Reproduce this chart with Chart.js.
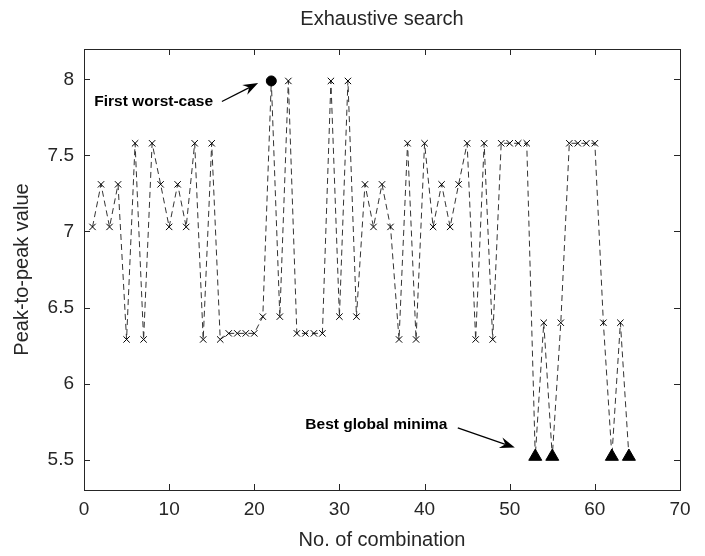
<!DOCTYPE html>
<html>
<head>
<meta charset="utf-8">
<script src="https://cdn.jsdelivr.net/npm/chart.js@4.4.0/dist/chart.umd.min.js"></script>
<style>
  html, body { margin: 0; padding: 0; background: #fff; }
</style>
</head>
<body>
<canvas id="peakChart" width="705" height="556"></canvas>
<script>
// combination number and the peak-to-peak value
var combos = [1, 2, 3, 4, 5, 6, 7, 8, 9, 10, 11, 12, 13, 14, 15, 16,
              17, 18, 19, 20, 21, 22, 23, 24, 25, 26, 27, 28, 29, 30, 31, 32,
              33, 34, 35, 36, 37, 38, 39, 40, 41, 42, 43, 44, 45, 46, 47, 48,
              49, 50, 51, 52, 53, 54, 55, 56, 57, 58, 59, 60, 61, 62, 63, 64];
var peakValues = [7.03, 7.31, 7.03, 7.31, 6.29, 7.58, 6.29, 7.58, 7.31, 7.03, 7.31, 7.03, 7.58, 6.29, 7.58, 6.29,
                  6.33, 6.33, 6.33, 6.33, 6.44, 7.99, 6.44, 7.99, 6.33, 6.33, 6.33, 6.33, 7.99, 6.44, 7.99, 6.44,
                  7.31, 7.03, 7.31, 7.03, 6.29, 7.58, 6.29, 7.58, 7.03, 7.31, 7.03, 7.31, 7.58, 6.29, 7.58, 6.29,
                  7.58, 7.58, 7.58, 7.58, 5.52, 6.40, 5.52, 6.40, 7.58, 7.58, 7.58, 7.58, 6.40, 5.52, 6.40, 5.52];
var xTicks = [0, 10, 20, 30, 40, 50, 60, 70];
var yTicks = [5.5, 6, 6.5, 7, 7.5, 8];

var worstIndex = peakValues.indexOf(Math.max.apply(null, peakValues));
var bestValue = Math.min.apply(null, peakValues);

// annotation text + arrow, in data units
var notes = [
  { text: 'First worst-case', x: 1.2, y: 7.855, from: [16.2, 7.855], to: [20.45, 7.976] },
  { text: 'Best global minima', x: 26, y: 5.726, from: [43.9, 5.708], to: [50.6, 5.579] }
];

var axisColor = '#262626';
var fontFamily = '"Liberation Sans", Arial, Helvetica, sans-serif';
Chart.defaults.font.family = fontFamily;
Chart.defaults.color = axisColor;

function drawArrow(ctx, x1, y1, x2, y2) {
  var ang = Math.atan2(y2 - y1, x2 - x1);
  var len = 15, half = 5.5, back = 10;
  ctx.beginPath();
  ctx.moveTo(x1, y1);
  ctx.lineTo(x2 - back * Math.cos(ang), y2 - back * Math.sin(ang));
  ctx.stroke();
  ctx.save();
  ctx.translate(x2, y2);
  ctx.rotate(ang);
  ctx.beginPath();
  ctx.moveTo(0, 0);
  ctx.lineTo(-len, -half);
  ctx.lineTo(-back, 0);
  ctx.lineTo(-len, half);
  ctx.closePath();
  ctx.fill();
  ctx.restore();
}

var annotate = {
  id: 'annotate',
  afterDatasetsDraw: function (chart) {
    var ctx = chart.ctx, xs = chart.scales.x, ys = chart.scales.y;
    ctx.save();
    ctx.fillStyle = '#000';
    ctx.strokeStyle = '#000';
    ctx.lineWidth = 1.3;
    ctx.font = 'bold 15.5px ' + fontFamily;
    ctx.textBaseline = 'middle';
    ctx.textAlign = 'left';
    notes.forEach(function (n) {
      ctx.fillText(n.text, xs.getPixelForValue(n.x), ys.getPixelForValue(n.y));
      drawArrow(ctx,
        xs.getPixelForValue(n.from[0]), ys.getPixelForValue(n.from[1]),
        xs.getPixelForValue(n.to[0]), ys.getPixelForValue(n.to[1]));
    });
    ctx.restore();
  }
};

// box around the axes with inward ticks on all four sides
var frame = {
  id: 'frame',
  afterDraw: function (chart) {
    var ctx = chart.ctx, a = chart.chartArea, xs = chart.scales.x, ys = chart.scales.y;
    var t = 6;
    ctx.save();
    ctx.strokeStyle = axisColor;
    ctx.lineWidth = 1;
    ctx.strokeRect(Math.round(a.left) + 0.5, Math.round(a.top) + 0.5,
                   Math.round(a.right - a.left), Math.round(a.bottom - a.top));
    ctx.beginPath();
    xTicks.forEach(function (v) {
      var px = Math.round(xs.getPixelForValue(v)) + 0.5;
      ctx.moveTo(px, a.bottom); ctx.lineTo(px, a.bottom - t);
      ctx.moveTo(px, a.top); ctx.lineTo(px, a.top + t);
    });
    yTicks.forEach(function (v) {
      var py = Math.round(ys.getPixelForValue(v)) + 0.5;
      ctx.moveTo(a.left, py); ctx.lineTo(a.left + t, py);
      ctx.moveTo(a.right, py); ctx.lineTo(a.right - t, py);
    });
    ctx.stroke();
    ctx.restore();
  }
};

var peakChart = new Chart(document.getElementById('peakChart').getContext('2d'), {
  type: 'line',
  data: {
    datasets: [{
      data: combos.map(function (c, i) { return { x: c, y: peakValues[i] }; }),
      borderColor: '#333',
      borderWidth: 1,
      borderDash: [6, 4],
      tension: 0,
      pointStyle: function (ctx) {
        if (ctx.dataIndex === worstIndex) return 'circle';
        if (peakValues[ctx.dataIndex] === bestValue) return 'triangle';
        return 'crossRot';
      },
      pointRadius: function (ctx) {
        if (ctx.dataIndex === worstIndex) return 5;
        if (peakValues[ctx.dataIndex] === bestValue) return 7.5;
        return 4.5;
      },
      pointBackgroundColor: '#000',
      pointBorderColor: '#000',
      pointBorderWidth: 1
    }]
  },
  options: {
    responsive: false,
    animation: false,
    layout: { padding: { left: 0, right: 25, top: 0, bottom: 0 } },
    plugins: {
      legend: { display: false },
      tooltip: { enabled: false },
      title: {
        display: true,
        text: 'Exhaustive search',
        fullSize: false,
        color: axisColor,
        font: { size: 20, weight: 'normal' },
        padding: { top: 7, bottom: 18 }
      }
    },
    scales: {
      x: {
        type: 'linear',
        min: 0,
        max: 70,
        grid: { display: false, drawTicks: false },
        border: { display: false },
        afterBuildTicks: function (s) { s.ticks = xTicks.map(function (v) { return { value: v }; }); },
        afterFit: function (s) { s.height = 66; },
        ticks: { font: { size: 19 }, padding: 8, maxRotation: 0, callback: function (v) { return String(v); } },
        title: { display: true, text: 'No. of combination', font: { size: 20 }, padding: { top: 0, bottom: 4 } }
      },
      y: {
        type: 'linear',
        min: 5.3,
        max: 8.2,
        grid: { display: false, drawTicks: false },
        border: { display: false },
        afterBuildTicks: function (s) { s.ticks = yTicks.map(function (v) { return { value: v }; }); },
        afterFit: function (s) { s.width = 84; },
        ticks: { font: { size: 19 }, padding: 10, callback: function (v) { return String(v); } },
        title: { display: true, text: 'Peak-to-peak value', font: { size: 20 }, padding: { top: 10, bottom: 0 } }
      }
    }
  },
  plugins: [annotate, frame]
});
</script>
</body>
</html>
